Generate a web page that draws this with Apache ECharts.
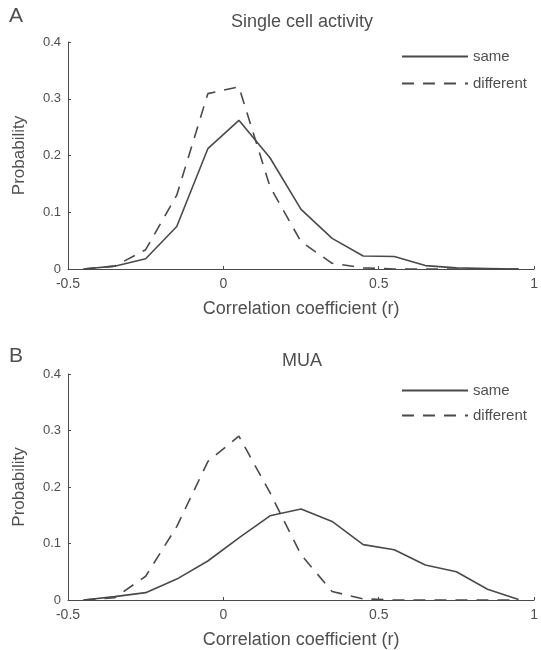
<!DOCTYPE html>
<html>
<head>
<meta charset="utf-8">
<script src="https://cdn.jsdelivr.net/npm/echarts@6/dist/echarts.min.js"></script>
<style>
  html, body { margin: 0; padding: 0; background: #fff; }
  #corrChart { width: 541px; height: 650px; }
</style>
</head>
<body>
<div id="corrChart"></div>
<script>
// bin centres of the histogram (correlation coefficient r)
var binCenters = [-0.45, -0.35, -0.25, -0.15, -0.05, 0.05, 0.15, 0.25, 0.35, 0.45, 0.55, 0.65, 0.75, 0.85, 0.95]

// A: single cell activity
var singleSame = [0, 0.005, 0.018, 0.075, 0.212, 0.262, 0.196, 0.105, 0.054, 0.023, 0.022, 0.006, 0.002, 0.001, 0]
var singleDiff = [0, 0.005, 0.034, 0.13, 0.309, 0.321, 0.145, 0.048, 0.01, 0.002, 0, 0, 0, 0, 0]

// B: MUA
var muaSame = [0, 0.006, 0.013, 0.037, 0.069, 0.11, 0.149, 0.161, 0.139, 0.098, 0.089, 0.062, 0.05, 0.019, 0.001]
var muaDiff = [0, 0.004, 0.042, 0.13, 0.245, 0.29, 0.19, 0.08, 0.015, 0.002, 0, 0, 0, 0, 0]

var xTicks = [-0.5, 0, 0.5, 1]
var yTicks = [0, 0.1, 0.2, 0.3, 0.4]
var seriesNames = ['same', 'different']

var fontName = '"Liberation Sans", Arial, sans-serif'
var inkColor = '#4a4a4a'
var textColor = '#4f4f4f'

function toPairs(vals) {
  return binCenters.map(function(x, i) { return [x, vals[i]] })
}

// one x axis / y axis per panel
function makeXAxis(idx) {
  return {
    type: 'value',
    gridIndex: idx,
    min: xTicks[0],
    max: xTicks[xTicks.length - 1],
    interval: 0.5,
    name: 'Correlation coefficient (r)',
    nameLocation: 'middle',
    nameGap: 31,
    nameTextStyle: { color: textColor, fontSize: 18, fontFamily: fontName },
    splitLine: { show: false },
    axisLine: { onZero: false, lineStyle: { color: inkColor, width: 1 } },
    axisTick: { inside: true, length: 3, lineStyle: { color: inkColor } },
    axisLabel: { color: textColor, fontSize: 14, fontFamily: fontName, margin: 8 }
  }
}

function makeYAxis(idx) {
  return {
    type: 'value',
    gridIndex: idx,
    min: yTicks[0],
    max: yTicks[yTicks.length - 1],
    interval: 0.1,
    name: 'Probability',
    nameLocation: 'middle',
    nameGap: 40,
    nameTextStyle: { color: textColor, fontSize: 17, fontFamily: fontName },
    splitLine: { show: false },
    axisLine: { show: true, onZero: false, lineStyle: { color: inkColor, width: 1 } },
    axisTick: { show: true, inside: true, length: 3, lineStyle: { color: inkColor } },
    axisLabel: { color: textColor, fontSize: 13, fontFamily: fontName, margin: 7 }
  }
}

function makeLine(name, vals, idx, dashed) {
  return {
    name: name,
    type: 'line',
    xAxisIndex: idx,
    yAxisIndex: idx,
    data: toPairs(vals),
    symbol: 'none',
    smooth: false,
    lineStyle: { color: inkColor, width: 1.6, type: dashed ? [12, 9] : 'solid' },
    itemStyle: { color: inkColor }
  }
}

function makeLegend(top, gap) {
  return {
    data: seriesNames,
    orient: 'vertical',
    left: 401,
    top: top,
    padding: 0,
    itemWidth: 66,
    itemHeight: 16,
    itemGap: gap,
    itemTextGap: 4,
    itemStyle: { opacity: 0 },
    textStyle: { color: textColor, fontSize: 15, fontFamily: fontName }
  }
}

var chart = echarts.init(document.getElementById('corrChart'))

var option = {
  backgroundColor: '#fff',
  animation: false,
  title: [
    { text: 'A', left: 9, top: 6, padding: 0, textStyle: { color: textColor, fontSize: 21, fontWeight: 'normal', fontFamily: fontName } },
    { text: 'Single cell activity', left: 302, top: 13, padding: 0, textAlign: 'center', textStyle: { color: textColor, fontSize: 18, fontWeight: 'normal', fontFamily: fontName } },
    { text: 'B', left: 9, top: 346, padding: 0, textStyle: { color: textColor, fontSize: 21, fontWeight: 'normal', fontFamily: fontName } },
    { text: 'MUA', left: 302, top: 352, padding: 0, textAlign: 'center', textStyle: { color: textColor, fontSize: 18, fontWeight: 'normal', fontFamily: fontName } }
  ],
  legend: [makeLegend(49, 12), makeLegend(383, 10)],
  grid: [
    { left: 68, right: 3, top: 42, height: 227 },
    { left: 68, right: 3, top: 374, height: 228 }
  ],
  xAxis: [makeXAxis(0), makeXAxis(1)],
  yAxis: [makeYAxis(0), makeYAxis(1)],
  series: [
    makeLine('same', singleSame, 0, false),
    makeLine('different', singleDiff, 0, true),
    makeLine('same', muaSame, 1, false),
    makeLine('different', muaDiff, 1, true)
  ]
}

chart.setOption(option)
</script>
</body>
</html>
